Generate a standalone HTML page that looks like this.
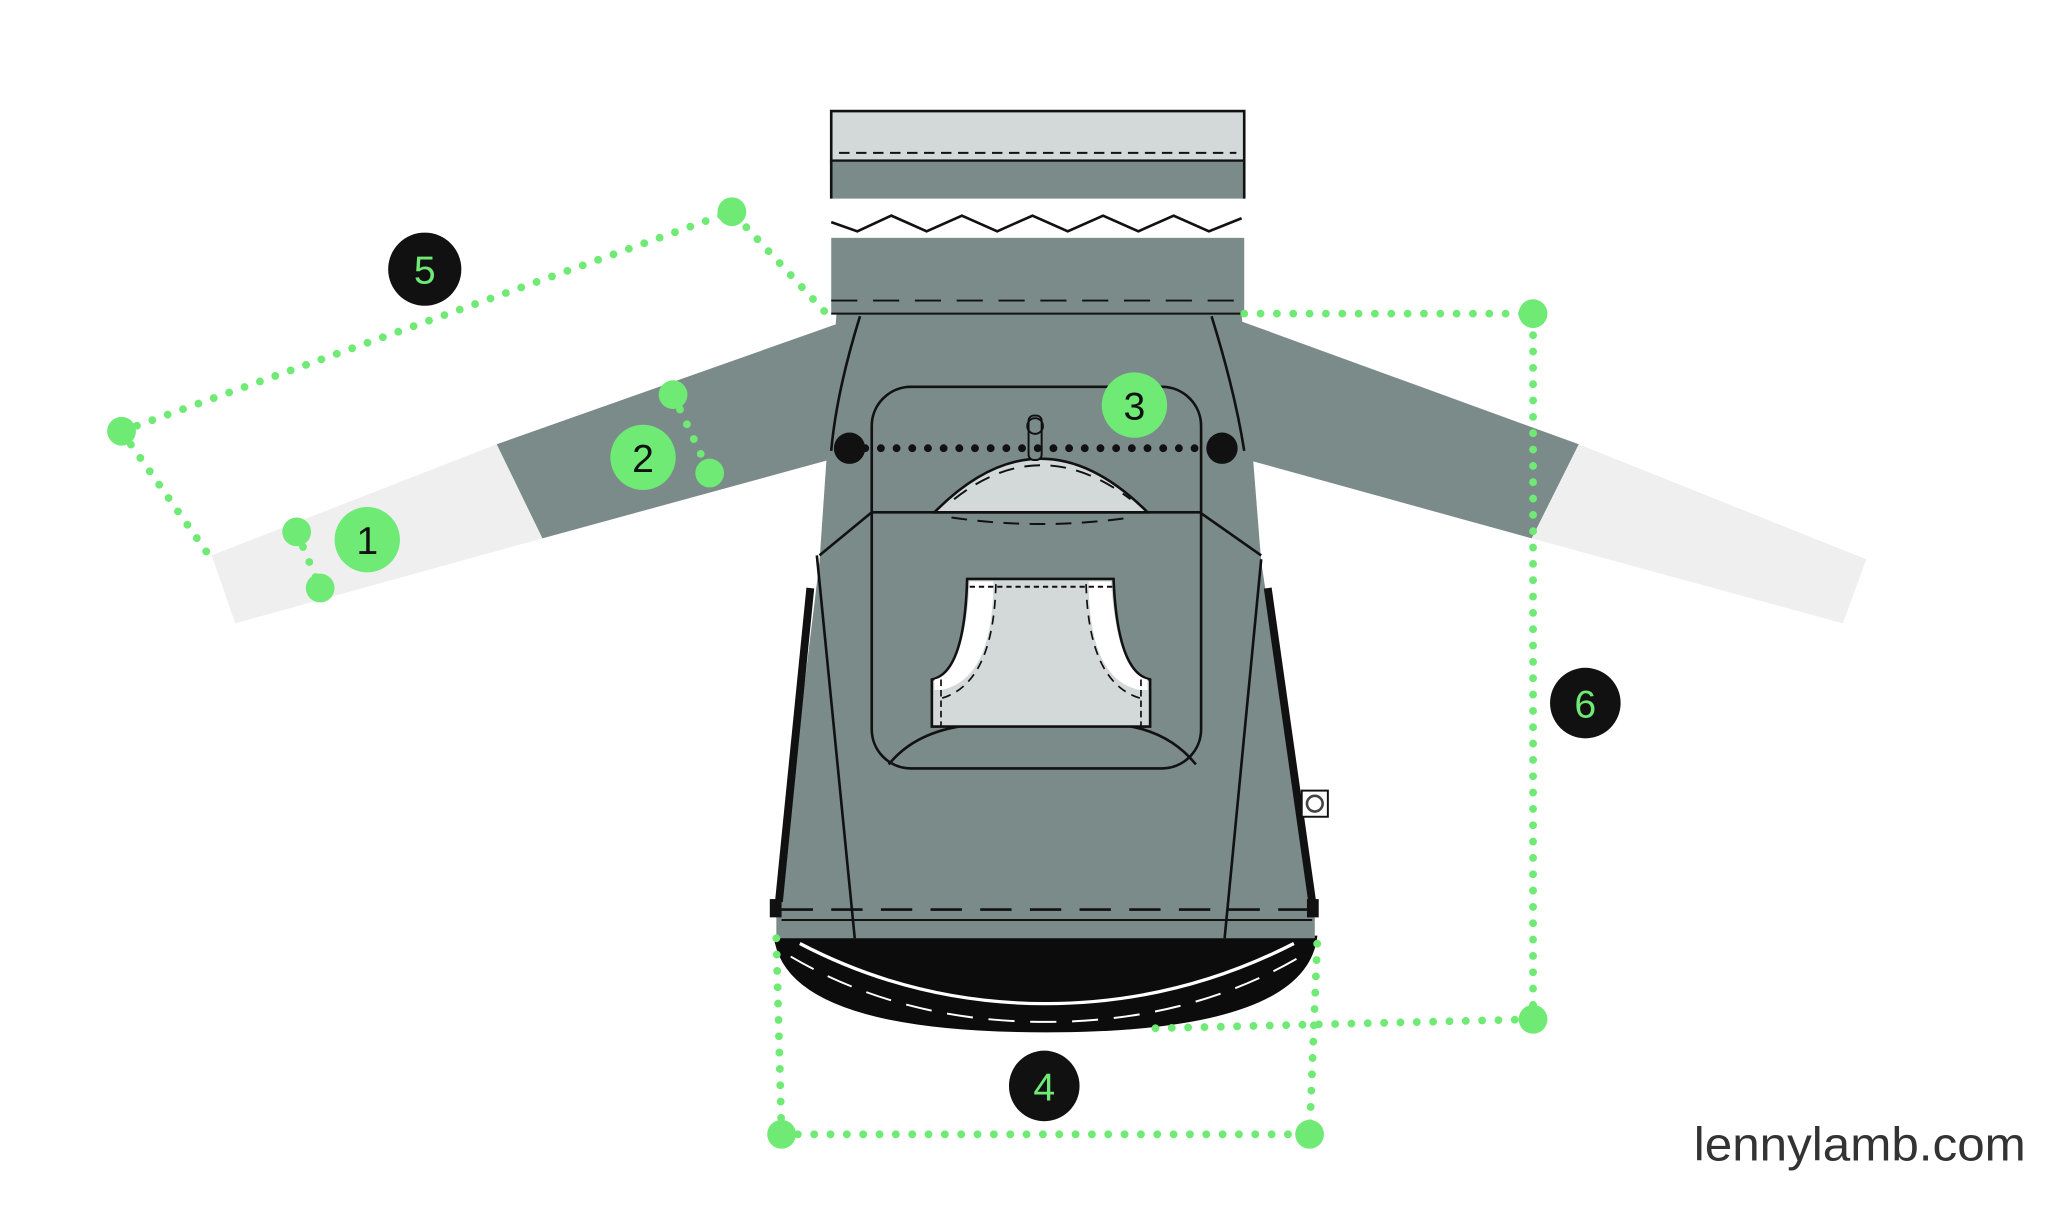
<!DOCTYPE html>
<html><head><meta charset="utf-8"><style>
html,body{margin:0;padding:0;background:#fff;}
svg{display:block;}
</style></head><body>
<svg width="2048" height="1231" viewBox="0 0 1567 942" preserveAspectRatio="none" xmlns="http://www.w3.org/2000/svg">
<rect width="1567" height="942" fill="#fff"/>
<polygon points="640,248 380,340 415,412 634,352" fill="#7b8b8a"/>
<polygon points="380,340 415,412 180,477 162,425" fill="#efefef"/>
<polygon points="950,246 1208,340 1172,412 955,352" fill="#7b8b8a"/>
<polygon points="1208,340 1428,428 1410,477 1172,412" fill="#efefef"/>
<path d="M592,716 Q600,790 800,790 Q1000,790 1008,716 Z" fill="#0c0c0c"/>
<path d="M612,722 Q700,768 800,768 Q900,768 990,722" fill="none" stroke="#fff" stroke-width="2.5"/>
<path d="M605,732 Q690,782 800,782 Q910,782 995,732" fill="none" stroke="#fff" stroke-width="1.5" stroke-dasharray="20,12"/>
<polygon points="640,240 950,240 965,430 1006,700 1006,718 594,718 594,700 627,430" fill="#7b8b8a"/>
<path d="M658,242 Q640,300 636,345" fill="none" stroke="#111" stroke-width="2"/>
<path d="M927,242 Q945,300 952,345" fill="none" stroke="#111" stroke-width="2"/>
<polyline points="627,425 667,392 918,392 965,425" fill="none" stroke="#111" stroke-width="2"/>
<line x1="625" y1="425" x2="654" y2="718" stroke="#111" stroke-width="2"/>
<line x1="965" y1="428" x2="937" y2="718" stroke="#111" stroke-width="2"/>
<line x1="620" y1="450" x2="596" y2="690" stroke="#111" stroke-width="6"/>
<line x1="970" y1="450" x2="1004" y2="690" stroke="#111" stroke-width="6"/>
<rect x="589" y="688" width="9" height="14" fill="#111"/>
<rect x="1000" y="688" width="9" height="14" fill="#111"/>
<line x1="598" y1="696" x2="1002" y2="696" stroke="#111" stroke-width="2" stroke-dasharray="24,14"/>
<line x1="598" y1="704" x2="1004" y2="704" stroke="#111" stroke-width="1.5"/>
<rect x="996" y="605" width="20" height="20" fill="#fff" stroke="#111" stroke-width="1.5"/>
<circle cx="1006" cy="615" r="6" fill="none" stroke="#444" stroke-width="2"/>
<rect x="667" y="296" width="252" height="292" rx="30" fill="none" stroke="#111" stroke-width="2"/>
<path d="M715,392 Q796,310 878,392 Z" fill="#d3d9d8" stroke="#111" stroke-width="2"/>
<path d="M730,382 Q796,330 865,382" fill="none" stroke="#111" stroke-width="1.5" stroke-dasharray="12,8"/>
<path d="M728,396 Q796,406 865,396" fill="none" stroke="#111" stroke-width="1.5" stroke-dasharray="12,8"/>
<path d="M680,585 Q700,560 740,555 L860,555 Q895,560 915,585" fill="none" stroke="#111" stroke-width="2"/>
<path d="M740,443 L852,443 Q855,515 880,520 L880,556 L713,556 L713,520 Q738,515 740,443 Z" fill="#d3d9d8" stroke="#111" stroke-width="2"/>
<path d="M742,445 L760,445 Q760,520 720,528 L715,528 L715,520 Q738,515 742,445Z" fill="#fff"/>
<path d="M850,445 L833,445 Q833,520 872,528 L878,528 L878,520 Q855,515 850,445Z" fill="#fff"/>
<line x1="742" y1="449" x2="852" y2="449" stroke="#111" stroke-width="1.5" stroke-dasharray="4,3"/>
<path d="M762,447 Q760,525 718,535" fill="none" stroke="#111" stroke-width="1.3" stroke-dasharray="7,5"/>
<path d="M831,447 Q833,525 875,535" fill="none" stroke="#111" stroke-width="1.3" stroke-dasharray="7,5"/>
<line x1="720" y1="520" x2="720" y2="556" stroke="#111" stroke-width="1.3" stroke-dasharray="5,3"/>
<line x1="873" y1="520" x2="873" y2="556" stroke="#111" stroke-width="1.3" stroke-dasharray="5,3"/>
<rect x="787" y="318" width="10" height="34" rx="4" fill="#7b8b8a" stroke="#111" stroke-width="1.5"/>
<circle cx="792" cy="326" r="6" fill="none" stroke="#111" stroke-width="1.5"/>
<rect x="636" y="85" width="316" height="38" fill="#d3d9d8" stroke="#111" stroke-width="2"/>
<rect x="636" y="123" width="316" height="29" fill="#7b8b8a"/>
<line x1="636" y1="123" x2="952" y2="123" stroke="#111" stroke-width="1.5"/>
<line x1="636" y1="152" x2="636" y2="123" stroke="#111" stroke-width="2"/>
<line x1="952" y1="152" x2="952" y2="123" stroke="#111" stroke-width="2"/>
<line x1="642" y1="117" x2="946" y2="117" stroke="#111" stroke-width="1.5" stroke-dasharray="8,5"/>
<polyline points="636,170 656,177 682,165 709,177 736,165 763,177 790,165 817,177 844,165 871,177 898,165 925,177 950,167" fill="none" stroke="#111" stroke-width="2"/>
<rect x="636" y="182" width="316" height="58" fill="#7b8b8a"/>
<line x1="636" y1="230" x2="952" y2="230" stroke="#111" stroke-width="1.5" stroke-dasharray="20,12"/>
<line x1="636" y1="240" x2="952" y2="240" stroke="#111" stroke-width="1.5"/>
<line x1="662" y1="343" x2="924" y2="343" stroke="#111" stroke-width="6" stroke-linecap="round" stroke-dasharray="0,12"/>
<circle cx="650" cy="343" r="12" fill="#111"/>
<circle cx="935" cy="343" r="12" fill="#111"/>
<g fill="none" stroke="#6eea75" stroke-width="6" stroke-linecap="round" stroke-dasharray="0,12.5">
<polyline points="93,330 560,162 638,246"/>
<polyline points="93,330 162,428"/>
<polyline points="952,240 1173,240 1173,780 878,787"/>
<polyline points="594,718 598,868 1002,868 1008,718"/>
<polyline points="227,407 245,450"/>
<polyline points="515,302 543,362"/>
</g>
<g fill="#6eea75">
<circle cx="93" cy="330" r="11"/><circle cx="560" cy="162" r="11"/>
<circle cx="1173" cy="240" r="11"/><circle cx="1173" cy="780" r="11"/>
<circle cx="598" cy="868" r="11"/><circle cx="1002" cy="868" r="11"/>
<circle cx="227" cy="407" r="11"/><circle cx="245" cy="450" r="11"/>
<circle cx="515" cy="302" r="11"/><circle cx="543" cy="362" r="11"/>
<circle cx="281" cy="413" r="25"/><circle cx="492" cy="350" r="25"/><circle cx="868" cy="310" r="25"/>
</g>
<g fill="#111"><circle cx="325" cy="206" r="28"/><circle cx="1213" cy="538" r="27"/><circle cx="799" cy="831" r="27"/></g>
<g font-family="'Liberation Sans',sans-serif" font-size="30" text-anchor="middle">
<text x="281" y="424" fill="#111">1</text>
<text x="492" y="361" fill="#111">2</text>
<text x="868" y="321" fill="#111">3</text>
<text x="325" y="217" fill="#6eea75">5</text>
<text x="1213" y="549" fill="#6eea75">6</text>
<text x="799" y="842" fill="#6eea75">4</text>
</g>
<text x="1296" y="888" font-family="'Liberation Sans',sans-serif" font-size="36" fill="#333" textLength="254" lengthAdjust="spacingAndGlyphs">lennylamb.com</text>
</svg>
</body></html>
